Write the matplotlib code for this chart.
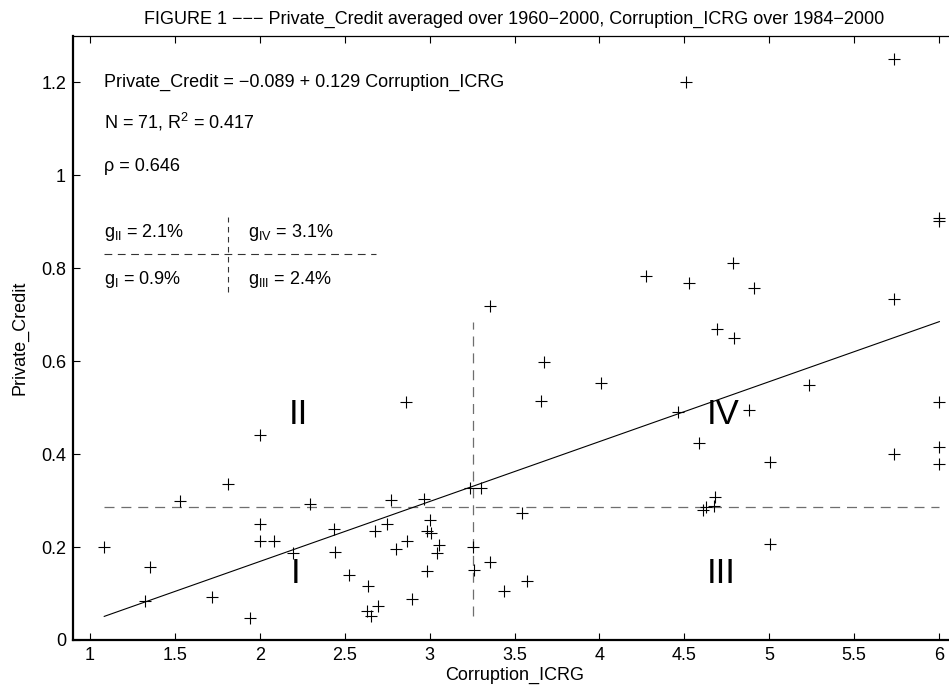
import numpy as np
import matplotlib
matplotlib.use('Agg')
import matplotlib.pyplot as plt

plt.rcParams['font.family'] = ['Liberation Sans', 'DejaVu Sans']
plt.rcParams['mathtext.fontset'] = 'custom'
plt.rcParams['mathtext.rm'] = 'Liberation Sans'
plt.rcParams['mathtext.it'] = 'Liberation Sans'

# Corruption_ICRG (x) and Private_Credit (y)
corruption = [1.084, 1.355, 1.326, 1.530, 1.811, 1.718, 1.944, 2.001, 2.000, 2.085,
              2.194, 2.296, 2.439, 2.441, 2.527, 2.635, 2.630, 2.655, 2.696, 2.677,
              2.747, 2.771, 2.802, 2.867, 2.898, 2.967, 3.002, 2.987, 3.006, 2.983,
              3.053, 3.042, 3.238, 3.258, 3.262, 3.301, 3.542, 3.356, 3.572, 3.440,
              4.608, 4.628, 4.681, 4.677, 5.005, 5.005, 5.737, 6.002, 3.356, 3.674,
              3.656, 4.008, 4.274, 4.530, 4.785, 4.908, 4.695, 4.795, 4.461, 4.883,
              5.232, 4.587, 5.737, 6.002, 6.002, 5.737, 4.510, 6.000, 6.000, 2.001,
              2.861]
credit = [0.201, 0.158, 0.084, 0.299, 0.336, 0.092, 0.047, 0.249, 0.214, 0.214,
          0.187, 0.293, 0.239, 0.190, 0.139, 0.116, 0.063, 0.052, 0.074, 0.235,
          0.250, 0.302, 0.195, 0.214, 0.088, 0.303, 0.258, 0.235, 0.230, 0.149,
          0.205, 0.187, 0.327, 0.201, 0.151, 0.327, 0.273, 0.167, 0.128, 0.106,
          0.280, 0.286, 0.307, 0.289, 0.383, 0.206, 0.401, 0.379, 0.719, 0.598,
          0.515, 0.554, 0.784, 0.768, 0.811, 0.757, 0.669, 0.650, 0.491, 0.494,
          0.549, 0.424, 0.734, 0.513, 0.416, 1.250, 1.201, 0.908, 0.901, 0.441,
          0.512]

intercept = -0.089
slope = 0.129
x_mean = 3.255
y_mean = 0.287

quadrant_labels = ['I', 'II', 'III', 'IV']
growth = ['0.9%', '2.1%', '2.4%', '3.1%']

x = np.array(corruption)
y = np.array(credit)
xmin, xmax = x.min(), x.max()

fs = 13

fig = plt.figure(figsize=(9.49, 6.88), dpi=100)
ax = fig.add_axes([73 / 949, 48 / 688, 883 / 949, 604 / 688])

dash = (0, (8, 5.5))
gray = '#6e6e6e'

# mean lines
fit_lo, fit_hi = intercept + slope * xmin, intercept + slope * xmax
ax.plot([xmin, xmax], [y_mean, y_mean], color=gray, lw=0.9, ls=dash)
ax.plot([x_mean, x_mean], [fit_lo, fit_hi], color=gray, lw=0.9, ls=dash)

# regression line
ax.plot([xmin, xmax], [fit_lo, fit_hi], color='black', lw=0.8)

# data
ax.plot(x, y, ls='none', marker='+', ms=8.5, mew=0.8, color='black')

# text block
ax.text(xmin, 1.2, 'Private_Credit = \u22120.089 + 0.129 Corruption_ICRG',
        fontsize=fs, va='center')
ax.text(xmin, 1.114, 'N = 71, R$^2$ = 0.417', fontsize=fs, va='center')
ax.text(xmin, 1.019, '\u03c1 = 0.646', fontsize=fs, va='center')

# small quadrant key
ax.plot([xmin, 2.686], [0.831, 0.831], color='#333333', lw=0.8, ls=(0, (7, 5)))
ax.plot([1.81, 1.81], [0.75, 0.91], color='#333333', lw=0.8, ls=(0, (5, 4)))
ax.text(xmin, 0.877, 'g$_{II}$ = ' + growth[1], fontsize=fs, va='center')
ax.text(1.93, 0.877, 'g$_{IV}$ = ' + growth[3], fontsize=fs, va='center')
ax.text(xmin, 0.775, 'g$_{I}$ = ' + growth[0], fontsize=fs, va='center')
ax.text(1.93, 0.775, 'g$_{III}$ = ' + growth[2], fontsize=fs, va='center')

# quadrant names
qpos = [(2.21, 0.144), (2.23, 0.485), (4.72, 0.144), (4.73, 0.485)]
for lab, (qx, qy) in zip(quadrant_labels, qpos):
    ax.text(qx, qy, lab, fontsize=25, ha='center', va='center')

ax.set_xlim(0.9, 6.1)
ax.set_ylim(0, 1.3)
ax.set_xticks([1, 1.5, 2, 2.5, 3, 3.5, 4, 4.5, 5, 5.5, 6])
ax.set_xticklabels(['1', '1.5', '2', '2.5', '3', '3.5', '4', '4.5', '5', '5.5', '6'])
ax.set_yticks([0, 0.2, 0.4, 0.6, 0.8, 1, 1.2])
ax.set_yticklabels(['0', '0.2', '0.4', '0.6', '0.8', '1', '1.2'])
ax.tick_params(direction='in', top=True, right=True, length=5, width=0.8,
               labelsize=fs, pad=5)
for side in ['left', 'bottom']:
    ax.spines[side].set_linewidth(1.6)
for side in ['top', 'right']:
    ax.spines[side].set_linewidth(0.9)

ax.set_xlabel('Corruption_ICRG', fontsize=fs, labelpad=2)
ax.set_ylabel('Private_Credit', fontsize=fs, labelpad=9)
ax.set_title('FIGURE 1 \u2212\u2212\u2212 Private_Credit averaged over 1960\u22122000, '
             'Corruption_ICRG over 1984\u22122000', fontsize=fs, pad=9)

fig.savefig('out.png', dpi=100)
